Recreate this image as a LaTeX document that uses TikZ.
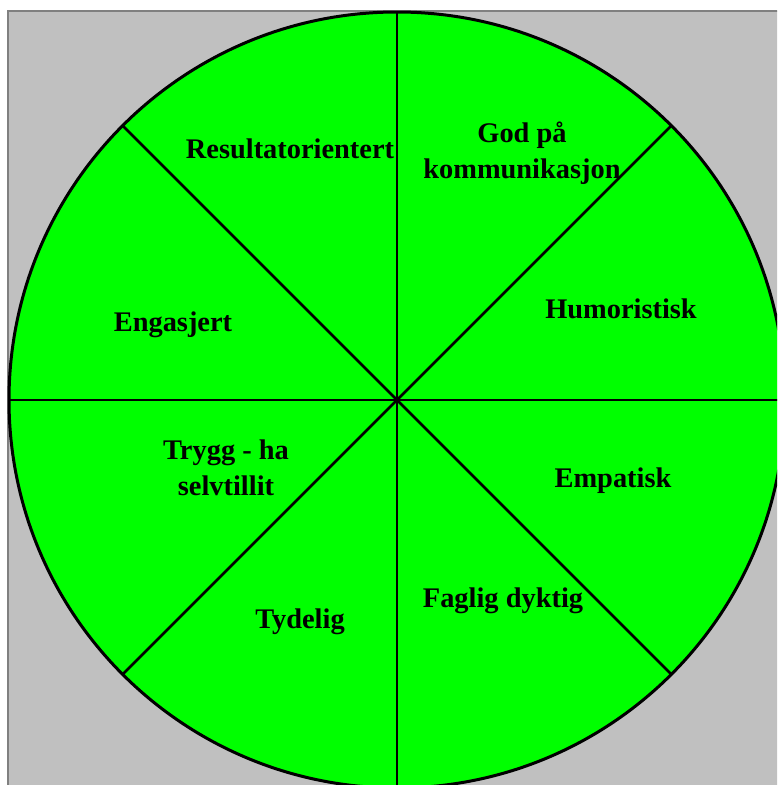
\documentclass[tikz,border=0pt]{standalone}
\usepackage{fontspec}
\setmainfont{Liberation Serif}
\usepackage{tikz}
\definecolor{wheelgreen}{RGB}{0, 255, 0}
\definecolor{panelgray}{RGB}{192, 192, 192}
\definecolor{framegray}{RGB}{128, 128, 128}
\usetikzlibrary{positioning}

\begin{document}
\begin{tikzpicture}[
    x=1pt, y=-1pt,
    label/.style={font=\bfseries\fontsize{28.4}{35.5}\selectfont, align=center, anchor=base, inner sep=0pt},
    spoke/.style={line width=2.7pt, black}
]
    \useasboundingbox (0,0) rectangle (777,785);
    \clip (0,0) rectangle (777,785);

    % background panel
    \fill[panelgray] (8,11) rectangle (800,800);
    \draw[framegray, line width=2pt] (8,800) -- (8,11) -- (800,11);

    % wheel
    \coordinate (hub) at (397,400);
    \filldraw[fill=wheelgreen, draw=black, line width=3pt] (hub) circle (388);
    \foreach \a in {0,45,...,315}
        \draw[spoke] (hub) -- ++(\a:388);

    \node[label] (resultat) at (290,158) {Resultatorientert};
    \node[label] (kommunikasjon) at (522,178) {God på\\kommunikasjon};
    \node[label] (humor) at (621,318) {Humoristisk};
    \node[label] (engasjert) at (173,331) {Engasjert};
    \node[label] (trygg) at (226,495) {Trygg - ha\\selvtillit};
    \node[label] (empatisk) at (613,487) {Empatisk};
    \node[label] (faglig) at (503,607) {Faglig dyktig};
    \node[label] (tydelig) at (300,628) {Tydelig};
\end{tikzpicture}
\end{document}
